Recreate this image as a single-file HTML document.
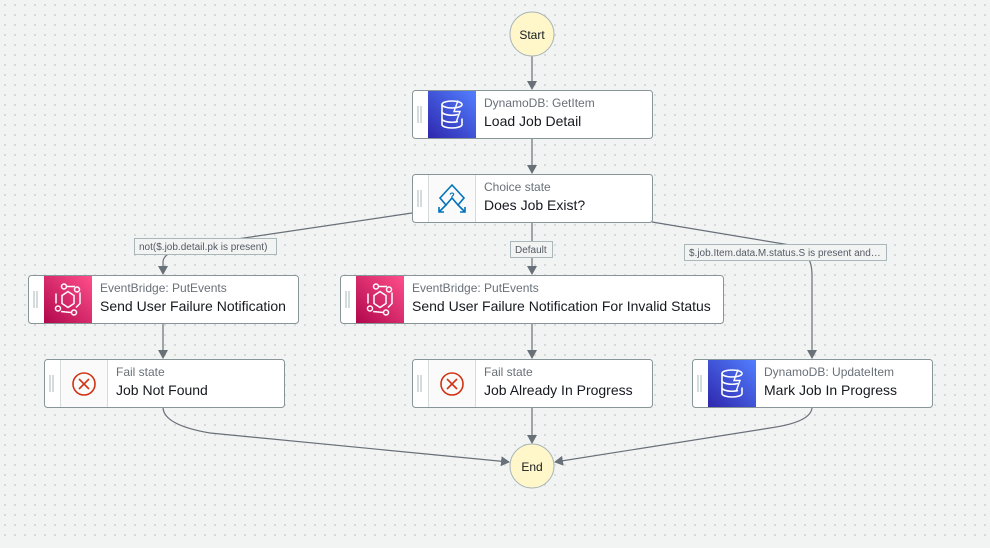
<!DOCTYPE html>
<html><head><meta charset="utf-8"><style>
html,body{margin:0;padding:0;}
body{width:990px;height:543px;overflow:hidden;background:#f2f3f3;font-family:"Liberation Sans",sans-serif;}
svg text{font-family:"Liberation Sans",sans-serif;}
</style></head><body>
<svg width="990" height="543" viewBox="0 0 990 543" xmlns="http://www.w3.org/2000/svg">
<defs>
<pattern id="dots" width="10" height="10" patternUnits="userSpaceOnUse"><rect x="4" y="4" width="2" height="2" fill="#d7d9d9"/></pattern>
<marker id="ar" markerWidth="10" markerHeight="10" refX="8" refY="5" orient="auto" markerUnits="userSpaceOnUse"><path d="M0,0 L9,5 L0,10 z" fill="#687078"/></marker>
<linearGradient id="ddb" x1="0" y1="1" x2="1" y2="0"><stop offset="0" stop-color="#2e27ad"/><stop offset="1" stop-color="#527fff"/></linearGradient>
<linearGradient id="eb" x1="0" y1="1" x2="1" y2="0"><stop offset="0" stop-color="#b0084d"/><stop offset="1" stop-color="#ff4f8b"/></linearGradient>
<g id="dbicon" fill="none" stroke="#fff" stroke-width="1.6">
<ellipse cx="0" cy="-10" rx="10" ry="3.5"/><path d="M-10,-10 V10 A10,3.5 0 0 0 10,10 V4"/><path d="M-10,-3 A10,3.5 0 0 0 6,0"/><path d="M-10,4 A10,3.5 0 0 0 6,7"/><path d="M6,-14 L2,-3 L8,-3 L4,8" stroke-width="1.4"/>
</g>
<g id="ebicon" fill="none" stroke="#fff" stroke-width="1.5">
<polygon points="-6,-4 0,-8 6,-4 6,4 0,8 -6,4"/><circle cx="-4" cy="-13" r="2.5"/><circle cx="9" cy="-10" r="2.5"/><circle cx="-10" cy="9" r="2.5"/><circle cx="6" cy="13" r="2.5"/><path d="M-12,-6 L-12,4 M-2,-13 L7,-13 M12,-7 L12,4 L8,8 M-7,12 L3,13"/>
</g>
<g id="failicon" fill="none" stroke="#d13212" stroke-width="1.6"><circle cx="0" cy="0" r="11"/><path d="M-5,-5 L5,5 M5,-5 L-5,5"/></g>
</defs>
<rect width="990" height="543" fill="url(#dots)"/>

<g fill="none" stroke="#687078" stroke-width="1.2">
<path d="M532,56 V89" marker-end="url(#ar)"/>
<path d="M532,138 V173" marker-end="url(#ar)"/>
<path d="M412,213 L190,246 Q163,252 163,262 V274" marker-end="url(#ar)"/>
<path d="M532,222 V274" marker-end="url(#ar)"/>
<path d="M652,222 L790,245 Q812,250 812,275 V358" marker-end="url(#ar)"/>
<path d="M163,323 V358" marker-end="url(#ar)"/>
<path d="M532,323 V358" marker-end="url(#ar)"/>
<path d="M532,407 V443" marker-end="url(#ar)"/>
<path d="M163,407 Q163,425 210,433 L509,462" marker-end="url(#ar)"/>
<path d="M812,407 Q812,422 770,428 L555,462" marker-end="url(#ar)"/>
</g>

<g font-size="10" fill="#545b64">
<rect x="134.5" y="238.5" width="142" height="16" fill="#f2f3f3" stroke="#aab7b8"/>
<text x="139" y="250">not($.job.detail.pk is present)</text>
<rect x="510.5" y="241.5" width="42" height="16" fill="#f2f3f3" stroke="#aab7b8"/>
<text x="515" y="253">Default</text>
<rect x="684.5" y="244.5" width="202" height="16" fill="#f2f3f3" stroke="#aab7b8"/>
<text x="689" y="256">$.job.Item.data.M.status.S is present and…</text>
</g>

<circle cx="532" cy="34" r="22" fill="#fff7c9" stroke="#aab7b8"/>
<text x="532" y="39" font-size="12" text-anchor="middle" fill="#16191f">Start</text>
<circle cx="532" cy="466" r="22" fill="#fff7c9" stroke="#aab7b8"/>
<text x="532" y="471" font-size="12" text-anchor="middle" fill="#16191f">End</text>

<!-- Load Job Detail -->
<g transform="translate(412,90)">
<rect x="0.5" y="0.5" width="240" height="48" rx="3" fill="#fff" stroke="#879596"/>
<path d="M6,16 V33 M9,16 V33" stroke="#aab7b8"/>
<rect x="16" y="1" width="48" height="47" fill="url(#ddb)"/>
<use href="#dbicon" x="40" y="24.5"/>
<text x="72" y="17" font-size="12" fill="#687078">DynamoDB: GetItem</text>
<text x="72" y="36" font-size="14" fill="#16191f">Load Job Detail</text>
</g>
<!-- Choice -->
<g transform="translate(412,174)">
<rect x="0.5" y="0.5" width="240" height="48" rx="3" fill="#fff" stroke="#879596"/>
<path d="M6,16 V33 M9,16 V33" stroke="#aab7b8"/>
<rect x="16" y="1" width="48" height="47" fill="#fafafa"/>
<path d="M16.5,1 V48 M63.5,1 V48" stroke="#d5dbdb"/>
<g fill="none" stroke="#0073bb" stroke-width="1.6"><path d="M40,11 L52,24 L46,31 L40,24 L34,31 L28,24 z"/><path d="M34,31 L27,38 M27,33 V38 H32 M46,31 L53,38 M53,33 V38 H48"/></g>
<text x="40" y="25" font-size="9" font-weight="bold" fill="#0073bb" text-anchor="middle">?</text>
<text x="72" y="17" font-size="12" fill="#687078">Choice state</text>
<text x="72" y="36" font-size="14" fill="#16191f">Does Job Exist?</text>
</g>
<!-- Send User Failure Notification -->
<g transform="translate(28,275)">
<rect x="0.5" y="0.5" width="270" height="48" rx="3" fill="#fff" stroke="#879596"/>
<path d="M6,16 V33 M9,16 V33" stroke="#aab7b8"/>
<rect x="16" y="1" width="48" height="47" fill="url(#eb)"/>
<use href="#ebicon" x="40" y="24.5"/>
<text x="72" y="17" font-size="12" fill="#687078">EventBridge: PutEvents</text>
<text x="72" y="36" font-size="14" fill="#16191f">Send User Failure Notification</text>
</g>
<!-- Invalid Status -->
<g transform="translate(340,275)">
<rect x="0.5" y="0.5" width="383" height="48" rx="3" fill="#fff" stroke="#879596"/>
<path d="M6,16 V33 M9,16 V33" stroke="#aab7b8"/>
<rect x="16" y="1" width="48" height="47" fill="url(#eb)"/>
<use href="#ebicon" x="40" y="24.5"/>
<text x="72" y="17" font-size="12" fill="#687078">EventBridge: PutEvents</text>
<text x="72" y="36" font-size="14" fill="#16191f">Send User Failure Notification For Invalid Status</text>
</g>
<!-- Job Not Found -->
<g transform="translate(44,359)">
<rect x="0.5" y="0.5" width="240" height="48" rx="3" fill="#fff" stroke="#879596"/>
<path d="M6,16 V33 M9,16 V33" stroke="#aab7b8"/>
<rect x="16" y="1" width="48" height="47" fill="#fafafa"/>
<path d="M16.5,1 V48 M63.5,1 V48" stroke="#d5dbdb"/>
<use href="#failicon" x="40" y="25"/>
<text x="72" y="17" font-size="12" fill="#687078">Fail state</text>
<text x="72" y="36" font-size="14" fill="#16191f">Job Not Found</text>
</g>
<!-- Job Already In Progress -->
<g transform="translate(412,359)">
<rect x="0.5" y="0.5" width="240" height="48" rx="3" fill="#fff" stroke="#879596"/>
<path d="M6,16 V33 M9,16 V33" stroke="#aab7b8"/>
<rect x="16" y="1" width="48" height="47" fill="#fafafa"/>
<path d="M16.5,1 V48 M63.5,1 V48" stroke="#d5dbdb"/>
<use href="#failicon" x="40" y="25"/>
<text x="72" y="17" font-size="12" fill="#687078">Fail state</text>
<text x="72" y="36" font-size="14" fill="#16191f">Job Already In Progress</text>
</g>
<!-- Mark Job In Progress -->
<g transform="translate(692,359)">
<rect x="0.5" y="0.5" width="240" height="48" rx="3" fill="#fff" stroke="#879596"/>
<path d="M6,16 V33 M9,16 V33" stroke="#aab7b8"/>
<rect x="16" y="1" width="48" height="47" fill="url(#ddb)"/>
<use href="#dbicon" x="40" y="24.5"/>
<text x="72" y="17" font-size="12" fill="#687078">DynamoDB: UpdateItem</text>
<text x="72" y="36" font-size="14" fill="#16191f">Mark Job In Progress</text>
</g>
</svg>
</body></html>
